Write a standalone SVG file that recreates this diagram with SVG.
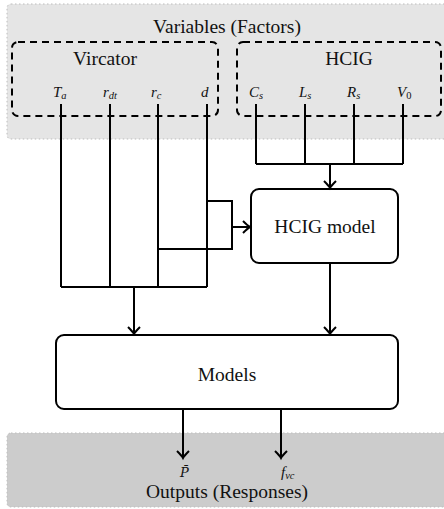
<svg xmlns="http://www.w3.org/2000/svg" width="444" height="509" viewBox="0 0 444 509">
<style>
.region{stroke:#bdbdbd;stroke-width:1;stroke-dasharray:1.5,2.5}
.group{fill:none;stroke:#000;stroke-width:2;stroke-dasharray:7,5}
.box{fill:#fff;stroke:#000;stroke-width:2}
.line{fill:none;stroke:#000;stroke-width:2}
text{font-family:'Liberation Serif','Times New Roman',serif}
.t{font-size:19.5px;fill:#111;text-anchor:middle}
.m{font-style:italic;font-size:15px;fill:#111}
.s{font-size:10.5px}
</style>
<defs>
<marker id="arr" markerUnits="userSpaceOnUse" markerWidth="16" markerHeight="16" viewBox="-10 -8 12 16" refX="0" refY="0" orient="auto">
<path d="M-7,-6 Q-2,-1 0,0 Q-2,1 -7,6" fill="none" stroke="#000" stroke-width="2"/>
</marker>
</defs>
<g id="variables">
<rect class="region" x="7" y="4" width="445" height="135" rx="4" fill="#e5e5e5"/>
<text class="t" x="227" y="33">Variables (Factors)</text>
</g>
<g id="outputs">
<rect class="region" x="7" y="433" width="445" height="74" rx="4" fill="#cccccc"/>
<text class="t" x="227" y="498">Outputs (Responses)</text>
<text class="m" x="180" y="477" style="font-family:'DejaVu Serif',serif;font-size:13px">P̄</text>
<text class="m" x="281" y="477">f<tspan class="s" dy="2">vc</tspan></text>
</g>
<g id="vircator">
<rect class="group" x="12" y="42" width="206" height="74" rx="6"/>
<text class="t" x="105" y="65">Vircator</text>
<text class="m" x="53" y="97">T<tspan class="s" dy="2">a</tspan></text>
<text class="m" x="103" y="97">r<tspan class="s" dy="2">dt</tspan></text>
<text class="m" x="151" y="97">r<tspan class="s" dy="2">c</tspan></text>
<text class="m" x="201" y="97">d</text>
</g>
<g id="hcig">
<rect class="group" x="237" y="42" width="204" height="74" rx="6"/>
<text class="t" x="349" y="65">HCIG</text>
<text class="m" x="249" y="97">C<tspan class="s" dy="2">s</tspan></text>
<text class="m" x="299" y="97">L<tspan class="s" dy="2">s</tspan></text>
<text class="m" x="347" y="97">R<tspan class="s" dy="2">s</tspan></text>
<text class="m" x="397" y="97">V<tspan class="s" dy="2" font-style="normal">0</tspan></text>
</g>
<g id="hcig-model">
<rect class="box" x="251" y="189" width="147" height="74" rx="8"/>
<text class="t" x="325" y="233">HCIG model</text>
</g>
<g id="models">
<rect class="box" x="56" y="335" width="342" height="74" rx="8"/>
<text class="t" x="227" y="381">Models</text>
</g>
<g id="connectors">
<path class="line" d="M61,104V287M110,104V287M158,104V287M207,104V287M61,287H207"/>
<path class="line" d="M207,201H232V249H158"/>
<path class="line" d="M256,104V164M305,104V164M354,104V164M403,104V164M256,164H403"/>
<path class="line" marker-end="url(#arr)" d="M330,164V188"/>
<path class="line" marker-end="url(#arr)" d="M232,227H250"/>
<path class="line" marker-end="url(#arr)" d="M134,287V334"/>
<path class="line" marker-end="url(#arr)" d="M330,263V334"/>
<path class="line" marker-end="url(#arr)" d="M183,409V458"/>
<path class="line" marker-end="url(#arr)" d="M281,409V458"/>
</g>
</svg>
